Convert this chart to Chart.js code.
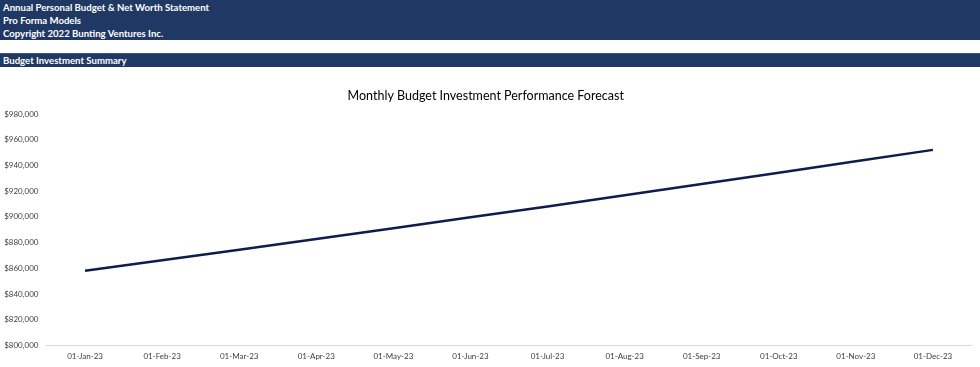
<!DOCTYPE html>
<html>
<head>
<meta charset="utf-8">
<script src="https://cdn.jsdelivr.net/npm/chart.js@4"></script>
<style>
    body { margin: 0; width: 980px; height: 367px; background: #fff; overflow: hidden; font-family: Lato, "Open Sans", sans-serif; }
    .header { position: absolute; left: 0; top: 0; width: 980px; height: 40px; background: #1f3864; }
    .header div { color: #fff; font-weight: bold; font-size: 9.6px; line-height: 13px; padding-left: 3px; }
    .header div:first-child { padding-top: 1px; }
    .section { position: absolute; left: 0; top: 53px; width: 980px; height: 14px; background: #1f3864; border-top: 1px solid #3a5488; box-sizing: border-box; }
    .section div { color: #fff; font-weight: bold; font-size: 9.6px; line-height: 13px; padding-left: 3px; }
    #chartBox { position: absolute; left: 0; top: 70px; width: 980px; height: 297px; }
</style>
</head>
<body>
<div class="header">
    <div>Annual Personal Budget &amp; Net Worth Statement</div>
    <div>Pro Forma Models</div>
    <div>Copyright 2022 Bunting Ventures Inc.</div>
</div>
<div class="section"><div>Budget Investment Summary</div></div>
<div id="chartBox"><canvas id="chart" width="980" height="297"></canvas></div>
<script>
    // --- DATOS DEL GRAFICO ---
    const months = ['01-Jan-23', '01-Feb-23', '01-Mar-23', '01-Apr-23', '01-May-23', '01-Jun-23',
                    '01-Jul-23', '01-Aug-23', '01-Sep-23', '01-Oct-23', '01-Nov-23', '01-Dec-23'];
    const investmentValues = [858000, 866200, 874400, 882700, 891100, 899600,
                              908100, 916800, 925500, 934300, 943200, 952100];
    const yTicks = [800000, 820000, 840000, 860000, 880000, 900000, 920000, 940000, 960000, 980000];

    const chartTitle = 'Monthly Budget Investment Performance Forecast';
    const formatCurrency = (value) => '$' + Number(value).toLocaleString('en-US');
    const FONT = 'Lato, "Open Sans", sans-serif';

    const ctx = document.getElementById('chart').getContext('2d');
    new Chart(ctx, {
        type: 'line',
        data: {
            labels: months,
            datasets: [{
                label: 'Investment',
                data: investmentValues,
                borderColor: '#0f1c4d',
                borderWidth: 2.5,
                pointRadius: 0,
                tension: 0,
                fill: false
            }]
        },
        options: {
            responsive: false,
            animation: false,
            layout: { padding: { left: 0, right: 8.5, top: 0, bottom: 0 } },
            plugins: {
                legend: { display: false },
                tooltip: { enabled: false },
                title: {
                    display: true,
                    text: chartTitle,
                    color: '#000',
                    font: { family: FONT, size: 12.5, weight: 'normal' },
                    padding: { top: 18, bottom: 11 }
                }
            },
            scales: {
                x: {
                    offset: true,
                    grid: { display: false, drawTicks: false },
                    border: { display: true, color: '#d9d9d9', width: 1 },
                    ticks: {
                        color: '#404040',
                        font: { family: FONT, size: 8 },
                        padding: 6,
                        maxRotation: 0,
                        autoSkip: false
                    }
                },
                y: {
                    min: yTicks[0],
                    max: yTicks[yTicks.length - 1],
                    afterFit: (scale) => { scale.width = 46.5; },
                    afterBuildTicks: (scale) => { scale.ticks = yTicks.map(v => ({ value: v })); },
                    grid: { display: false, drawTicks: false },
                    border: { display: false },
                    ticks: {
                        color: '#404040',
                        font: { family: FONT, size: 8 },
                        padding: 8,
                        callback: (value) => formatCurrency(value)
                    }
                }
            }
        }
    });
</script>
</body>
</html>
